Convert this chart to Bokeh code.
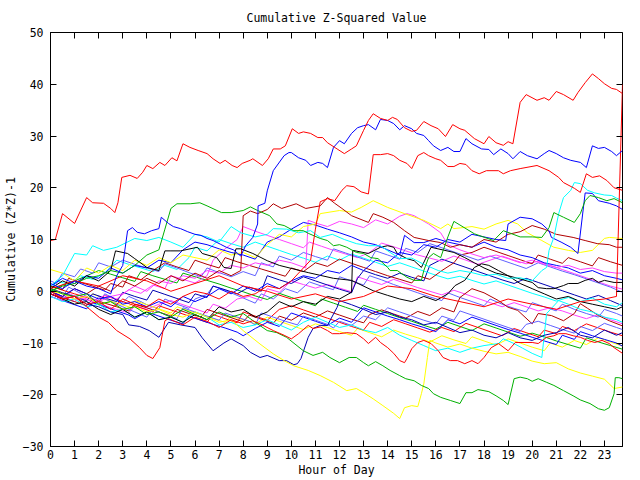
from bokeh.plotting import figure
from bokeh.models import Range1d, LinearAxis, FixedTicker
from bokeh.embed import file_html
from bokeh.resources import INLINE

FONT = "DejaVu Sans Mono"
TITLE = "Cumulative Z-Squared Value"
XLABEL = "Hour of Day"
YLABEL = "Cumulative (Z*Z)-1"
X_TICKS = list(range(24))
Y_TICKS = list(range(-30, 51, 10))

# ---- series, as (hour, value) ----
RED_TOP = [(0,9.8),(0.2,10),(0.5,15),(1.0,13.1),(1.5,18.1),(1.75,17.1),(2.2,17),(2.5,16),(2.67,15.2),(2.8,17.1),(2.96,22),(3.3,22.4),(3.6,21.8),(3.83,23),(4.0,24.3),(4.25,23.7),(4.54,24.9),(4.75,24.3),(5.04,25.8),(5.25,25.2),(5.5,28.5),(5.79,27.8),(6.13,27.2),(6.5,26.6),(6.75,25.6),(7.04,24.7),(7.25,25.3),(7.54,24.3),(7.75,23.9),(7.96,24.7),(8.29,25.3),(8.4,25.6),(8.8,24.3),(9.04,25.6),(9.25,27.5),(9.54,27.5),(9.75,28.1),(10.04,31.4),(10.3,30.5),(10.5,30.8),(10.8,30.5),(11.1,29.7),(11.3,29.7),(11.5,28.7),(11.9,27.5),(12.2,26.6),(12.5,27.5),(12.7,28.1),(13.0,31.1),(13.2,33),(13.4,34.3),(13.7,33.4),(14.0,33),(14.2,33.6),(14.4,33.2),(14.7,31.6),(15.0,30.9),(15.2,31.1),(15.5,32.8),(15.8,32),(16.1,31.4),(16.4,29.9),(16.7,32.2),(17.0,31.4),(17.2,31.1),(17.6,29.5),(18.0,28.5),(18.2,29.9),(18.5,28.7),(18.8,28.2),(19.0,28.9),(19.2,28.5),(19.5,36.5),(19.75,38),(20.2,36.9),(20.5,37.4),(20.7,36.9),(21.0,38.6),(21.3,38),(21.7,36.9),(21.9,38.4),(22.2,40.3),(22.5,42),(22.75,41.1),(23.0,40.1),(23.3,39.2),(23.5,39),(23.75,38.2)]

BLUE_TOP = [(0,1.5),(0.5,0.5),(1,2),(1.5,1),(2,0.5),(2.5,-0.5),(2.75,3),(3.0,5),(3.2,11.7),(3.4,12.3),(3.6,11.4),(3.9,11.1),(4.2,11.7),(4.5,12.1),(4.6,14.3),(4.9,13.1),(5.1,12.5),(5.4,12.1),(5.7,11.5),(6,11),(6.25,10.8),(6.5,10.2),(6.75,9.8),(7.05,9.1),(7.3,8.5),(7.6,8),(7.9,6.8),(8.1,8.8),(8.4,10.4),(8.6,13),(8.62,16.5),(8.9,17),(9.0,19.4),(9.25,23.3),(9.7,26.2),(9.9,26.8),(10.0,26.8),(10.3,25.8),(10.6,25.3),(10.8,24.3),(11.1,24.9),(11.3,24.7),(11.5,23.9),(11.75,27.8),(12,29.1),(12.2,28.5),(12.5,30.5),(12.75,31.6),(13,32),(13.2,32.2),(13.5,31.2),(13.7,33.2),(14,33),(14.25,32.4),(14.5,31.2),(14.7,32),(15,31.4),(15.2,30.5),(15.5,30.1),(15.7,29.1),(15.9,28.1),(16.2,27.2),(16.5,27.8),(16.75,27),(17,27),(17.25,29.5),(17.5,28.5),(17.9,27.5),(18.2,27.4),(18.4,26.4),(18.7,27.5),(19,26.6),(19.2,25.6),(19.5,27),(19.8,26.2),(20.2,25.6),(20.5,26.6),(20.7,27.2),(21,26.6),(21.3,25.8),(21.6,25.3),(22,24.9),(22.25,23.9),(22.5,28.1),(22.75,27.6),(23,27.8),(23.3,27),(23.5,26.2),(23.75,27.2)]

RED_MID = [(0,-0.5),(0.5,-1.5),(1,-1),(1.5,-2.5),(2,-2),(2.5,-3.5),(3,-1.5),(3.5,-2.5),(4,-3),(4.5,-1.5),(5,-2.5),(5.5,-1),(6,0),(6.5,-0.5),(7,-1.5),(7.5,0),(8,-1),(8.5,-0.5),(9,1),(9.5,0.5),(10,2),(10.5,4.5),(10.8,6),(11.0,12),(11.2,17.3),(11.5,17.9),(11.8,17.5),(12.1,19.5),(12.3,20.4),(12.6,20.2),(12.9,19.2),(13.2,18.8),(13.4,26.4),(13.7,26.4),(14,26.6),(14.25,26.2),(14.5,25.3),(14.8,24.7),(15,23.7),(15.25,26.2),(15.5,26.8),(15.7,26.2),(16,25.6),(16.2,25.3),(16.5,24.1),(16.75,24.1),(17,24.7),(17.25,24.5),(17.5,23.3),(17.8,22.7),(18.1,23.3),(18.6,23.3),(18.8,22.7),(19.1,23.3),(19.5,23.7),(20.2,24.3),(20.7,23.3),(21.1,22),(21.3,21),(21.75,19.9),(22,19.1),(22.25,22.7),(22.5,22),(22.8,22.3),(23.1,21.4),(23.4,20),(23.75,19.5)]

RED_DIP = [(0,0),(0.5,-1.5),(1,-1),(1.5,-3),(2.04,-5.1),(2.4,-6),(2.75,-7.6),(3.3,-9.2),(3.7,-10.9),(4,-12.4),(4.25,-13),(4.54,-10.9),(4.75,-5.7),(4.9,-5.3),(5.5,-6.5),(6,-5),(6.5,-5.8),(7,-7),(7.5,-5.5),(8,-6.3),(8.4,-5.7),(8.7,-6.3),(9.25,-7.6),(9.7,-8.5),(10,-9.2),(10.3,-8.2),(10.7,-6.6),(10.9,-7.2),(11.2,-6.9),(11.5,-7.6),(11.7,-8.2),(12,-8.2),(12.3,-8),(12.7,-8.2),(13,-9.2),(13.2,-10.1),(13.5,-8.9),(13.7,-9.9),(14,-10.9),(14.25,-12),(14.5,-13.4),(14.7,-13.8),(14.8,-13),(15,-11.1),(15.25,-9.9),(15.5,-9.5),(15.8,-10.1),(16.1,-11.5),(16.3,-12.8),(16.6,-13.4),(16.9,-13.4),(17.2,-14),(17.5,-13.4),(17.75,-14),(18,-12.8),(18.3,-10.9),(18.6,-10.1),(19,-11.5),(19.3,-9.9),(20,-9.9),(20.25,-10.1),(20.6,-8.9),(20.9,-8.6),(21.1,-8.2),(21.4,-8.2),(21.7,-8.6),(22,-8.9),(22.3,-9.5),(22.6,-9.9),(22.9,-9.5),(23.2,-10.1),(23.4,-10.9),(23.75,-12)]

GREEN_LOW = [(0,0.5),(0.5,-0.5),(1,-1),(1.5,-0.5),(2,-2.5),(2.5,-2),(3,-3.5),(3.5,-3),(4,-4.5),(4.5,-4),(5,-5),(5.5,-3.5),(6,-4.5),(6.5,-5.5),(7,-4),(7.5,-5),(8,-4.3),(8.5,-6),(9,-7.6),(9.4,-8),(9.8,-8.9),(10.5,-11.5),(10.9,-12.4),(11.3,-11.8),(11.6,-12.8),(12,-13.8),(12.4,-12.8),(12.7,-12.8),(13,-13.8),(13.2,-14.4),(13.5,-13.6),(13.8,-14.4),(14.1,-15.3),(14.5,-16.3),(14.75,-16.9),(15.1,-17.3),(15.4,-18.2),(15.7,-18.8),(15.9,-19.8),(16.2,-20.5),(16.6,-21.1),(17,-21.7),(17.25,-19.6),(17.5,-19.6),(17.75,-19),(18.2,-19.4),(18.5,-20.2),(18.8,-21.1),(19,-21.9),(19.25,-16.9),(19.5,-16.6),(19.8,-16.9),(20,-17.4),(20.25,-16.9),(20.6,-17.6),(20.9,-18.2),(21.3,-19.2),(21.7,-20.2),(22,-21),(22.4,-21.7),(22.75,-22.7),(23,-23),(23.2,-22.5),(23.4,-19.8),(23.45,-16.7),(23.6,-16.7),(23.75,-16.9)]

YELLOW_LOW = [(0,0),(0.5,-0.5),(1,-1.5),(1.5,-1),(2,-2.5),(2.5,-2),(3,-3.5),(3.5,-3),(4,-4),(4.5,-3.5),(5,-4.5),(5.5,-5),(6,-4),(6.5,-5),(7,-6),(7.5,-5.5),(8,-7.6),(8.7,-10.2),(9.25,-12.1),(9.7,-13.4),(10.1,-14.4),(10.7,-15.3),(11.2,-16.3),(11.75,-17.6),(12.3,-19.2),(12.7,-18.8),(13,-19.6),(13.4,-20.8),(13.8,-22.1),(14.25,-23.6),(14.5,-24.6),(14.7,-22.5),(15,-22.1),(15.25,-22.3),(15.4,-19.8),(15.5,-17.9),(15.65,-12.8),(15.75,-9.5),(16,-10),(16.5,-10.8),(17,-10.2),(17.5,-11),(18,-11.6),(18.5,-12.1),(19,-11.8),(19.5,-12.6),(20,-13.5),(20.5,-14),(21,-13.8),(21.5,-15),(22,-15.8),(22.5,-16.4),(23,-17),(23.4,-18.8),(23.75,-18.5)]

NAVY_DIP = [(0,-0.5),(0.5,-1.5),(1,-1),(1.5,-2.5),(2,-3),(2.5,-4),(3,-4.5),(3.25,-6.5),(3.7,-6.8),(4.1,-7.6),(4.5,-8.9),(4.9,-6),(5.4,-6.5),(6,-7),(6.3,-9),(6.75,-11.5),(7.2,-10),(7.5,-9.2),(8,-10.5),(8.3,-11.8),(8.7,-12.8),(9,-12.4),(9.5,-13.4),(9.8,-13.4),(10.1,-14.2),(10.25,-14),(10.4,-13),(10.7,-8.9),(10.9,-7.2),(11.2,-6.6),(11.5,-6.6),(11.9,-3.1),(12,-1.8),(12.5,-2.6),(13,-3.5),(13.5,-4.5),(14,-4),(14.5,-5),(15,-5.5),(15.5,-6.5),(16,-6),(16.5,-7),(17,-8),(17.5,-7.5),(18,-8.5),(18.5,-9),(19,-8),(19.5,-9),(20,-9.5),(20.5,-8.5),(21,-8),(21.5,-7),(22,-8.5),(22.5,-9),(23,-7.5),(23.5,-8.5),(23.75,-8)]

GREEN_UP = [(0,0),(0.5,1),(1,1.5),(1.5,2.5),(2,3),(2.5,4),(3,3.5),(3.5,5),(4,7),(4.5,8),(4.75,12),(5.0,16),(5.25,16.9),(5.8,16.9),(6.2,17.1),(6.5,16.5),(7.1,15.2),(7.5,15.2),(8,15.6),(8.3,16.3),(8.6,15.6),(9.1,14.6),(9.4,13),(9.7,12.7),(10.1,11.7),(10.5,11.7),(10.7,11.2),(11.2,10.2),(11.5,9.8),(11.75,8.8),(12,9),(12.3,8.5),(12.7,7.5),(13,7.3),(13.3,6.5),(13.6,6.3),(14,4.6),(14.1,4),(14.4,4),(14.8,2.7),(15.1,2.1),(15.4,2.1),(15.5,4),(15.7,6.5),(15.9,7.3),(16.2,6.5),(16.5,10.5),(16.75,13.5),(17,12.8),(17.6,11.1),(18.4,9.8),(18.8,11.7),(19.1,11.2),(19.5,10.5),(20,10.5),(20.4,10.4),(20.7,12.3),(20.9,15.2),(21.3,14.3),(21.75,13.3),(22,15),(22.2,17.5),(22.4,18.5),(22.75,18.1),(23.1,17.5),(23.4,17.9),(23.75,17.1)]

CYAN_UP = [(0,1),(0.5,3),(1,7.3),(1.5,7),(1.75,8.8),(2.2,7.9),(2.75,8.5),(3.5,10.2),(4,9.8),(4.5,10.4),(5,9.5),(5.5,8.5),(6,11),(6.5,10.5),(7,9.5),(7.5,12.5),(7.9,11.3),(8.5,10.5),(9,11),(9.25,12.1),(9.8,12),(10.3,11.3),(10.8,11.7),(11.2,10.4),(11.7,11),(12.2,10),(12.7,9.2),(13.2,8.8),(13.7,8.8),(14.1,7.5),(14.5,6.3),(15,6.4),(15.5,5.2),(16.1,4),(16.5,3.5),(17,4),(17.5,3.6),(18,3),(18.5,3.3),(19,2.5),(19.5,2.6),(20,2),(20.4,4),(20.6,4.6),(20.7,7.9),(20.9,10.4),(21.1,15),(21.3,18.1),(21.6,19.5),(21.75,21),(22,20.8),(22.3,19.5),(22.6,19),(23,18.6),(23.3,18.5),(23.5,18),(23.75,17.5)]

CYAN_LOW = [(0,-1),(0.5,-2),(1,-1.5),(1.5,-3),(2,-2.5),(2.5,-4),(3,-3.5),(3.5,-5),(4,-4),(4.5,-5.5),(5,-5),(5.5,-6),(6,-4),(6.5,-5),(7,-6.5),(7.5,-6),(8,-7),(8.5,-6.5),(9,-5.5),(9.5,-6.5),(10,-7.5),(10.5,-6),(11,-5),(11.5,-6),(12,-7),(12.5,-6.5),(13,-7.5),(13.5,-8),(14,-7),(14.5,-8.5),(15,-9.5),(15.5,-10.5),(16,-11.5),(16.5,-11),(17,-11.8),(17.5,-11),(18,-10.5),(18.6,-10.1),(18.8,-9.2),(19.2,-10),(19.6,-11),(20,-12),(20.4,-12.8),(20.6,-4.3),(21.1,-1.8),(21.5,-2.5),(22,-3.5),(22.5,-4),(23,-5),(23.5,-5.5),(23.75,-6)]

RED_END = [(0,0.5),(1,2),(2,1),(3,3),(4,2),(5,0),(6,1.5),(7,3),(8,1),(9,0),(10,-1.5),(11,-0.5),(12,-2),(13,-1),(14,1),(15,0.5),(16,-1),(17,-2),(18,-3),(19,-1.5),(20,-2.5),(21,-3.5),(22,-2),(23,-1.5),(23.5,-1),(23.75,40)]

BLACK_A = [(0,0.5),(0.5,2),(1,1),(1.5,3),(2,2),(2.5,4),(2.7,7.8),(3.2,7.3),(3.5,6.3),(4,4.6),(4.5,4),(4.75,7.8),(5,7.8),(5.4,7.8),(6.1,8.5),(6.3,7.3),(6.9,6.5),(7.2,4.6),(7.5,4.4),(7.7,8.2),(7.9,8.2),(8.4,7.3),(9,5.9),(9.5,5),(10.7,3.6),(11.75,2.5),(12.5,2.1),(13.4,0.1),(14,-0.8),(14.5,-1.5),(15,-2),(15.5,-1),(16,-1.8),(16.5,-0.5),(16.8,1.1),(17.2,2.1),(17.6,4.6),(17.9,5.3),(18.2,5),(18.6,4),(19,3),(19.4,2.5),(20,1.7),(20.25,0.7),(20.6,0.5),(20.9,0.5),(21.3,1.1),(21.5,1.5),(21.9,1.5),(22.2,2.1),(22.5,2.5),(22.75,1.7),(23,2.1),(23.4,1.7),(23.75,1.7)]

BLACK_B = [(0,-0.5),(0.5,-1.5),(1,-2.5),(1.5,-2),(2,-3.5),(2.5,-4.5),(3,-3.5),(3.5,-5),(4,-4),(4.5,-5.5),(5,-5),(5.5,-6),(6,-4.5),(6.5,-5.5),(7,-3),(7.5,-4),(8,-3.5),(8.5,-5),(9,-4),(9.5,-2),(10,-3),(10.5,-2),(11,-2.5),(11.5,-1),(12,-1.5),(12.5,-0.2),(12.55,7.9),(13.2,7.3),(13.7,8.5),(14,8.8),(14.25,8.5),(14.4,7.3),(14.8,6.3),(15.1,5.9),(15.4,4.6),(15.8,8.5),(16.75,7.5),(17.2,6.5),(17.6,5.5),(18,4.5),(18.5,3.5),(19,3),(19.5,1.5),(20,0.5),(20.5,-0.5),(21,-1.5),(21.5,-1),(22,-2),(22.5,-2.5),(23,-3),(23.5,-3.5),(23.75,-3)]

YEL_HIGH = [(0,4.2),(0.5,3.5),(1,2),(1.5,4.5),(2,3.5),(2.5,5),(3,4),(3.5,6),(4,5),(4.5,6.5),(5,5.5),(5.5,7),(6,6.5),(6.5,6),(7,8),(7.5,7),(8,7.5),(8.5,6.5),(9,9),(9.5,11),(10,10.5),(10.5,12.5),(11,13),(11.2,15),(12,15.6),(12.5,15.3),(12.9,16.2),(13.4,17.5),(14,16.2),(14.7,15),(15.5,13.7),(16.2,12.1),(16.5,13),(16.75,12.1),(17.5,12.5),(18,12),(18.5,13),(19,13.7),(19.4,13),(19.8,11.3),(20.4,9.8),(20.9,8.5),(21.5,7.9),(22,7.5),(22.5,7.9),(23,10.2),(23.2,10.4),(23.75,10.2)]

DRED_HIGH = [(0,0),(0.5,-1),(1,0.5),(1.5,-0.5),(2,1),(2.5,0),(3,2),(3.5,1),(4,2.5),(4.5,1.5),(5,3),(5.5,2),(6,3.5),(6.5,2.5),(7,4),(7.5,3),(7.9,4),(8.0,14.6),(8.3,15.5),(8.6,15),(9,15.8),(9.25,16.9),(9.6,16),(10.2,16.9),(10.6,16),(11.2,16.5),(11.5,18.1),(11.8,17),(12.1,16),(12.5,14.6),(13.2,13.3),(13.4,15),(13.8,14.3),(14.25,13.3),(14.7,11.7),(15.1,10.4),(15.7,9.8),(16.2,9.4),(16.6,8.5),(17,9),(17.5,8.5),(18,10),(18.5,9.5),(19,11),(19.5,11.5),(20,12.7),(20.5,12),(21,11),(21.7,10.4),(22.2,9.8),(22.7,9.2),(23.2,9),(23.5,8.5),(23.75,8.5)]

MAG_HIGH = [(0,0.5),(0.5,-0.5),(1,-1.5),(1.5,-1),(2,-2),(2.5,-1),(3,-0.5),(3.5,1),(4,0),(4.5,2),(5,1.5),(5.5,3),(6,2.5),(6.5,4),(7,3.5),(7.5,5),(8,4.5),(8.5,5.5),(9,5),(9.5,6),(10,5.5),(10.6,4.5),(10.7,13.7),(11,13.2),(11.5,12.5),(12,13.5),(12.5,13),(13,12.3),(13.5,13.8),(14,13),(14.5,14.5),(14.8,15),(15.1,14.6),(15.7,13),(16.2,11.3),(16.5,9),(17,8),(17.5,7.2),(18,6.5),(18.5,7),(19,6.3),(19.5,5.5),(20,6),(20.5,5.2),(21,4.6),(21.5,5),(22,4.2),(22.5,4.5),(23,3.8),(23.5,3.5),(23.75,3.5)]

BLUE_MID = [(0,1),(0.5,2.5),(1,1.5),(1.5,3),(2,2.5),(2.5,4.5),(3,3.5),(3.5,5),(4,4.5),(4.5,6),(5,5.5),(5.5,8),(6,9.5),(6.5,9),(7,8.2),(7.5,7.5),(8,7),(8.5,6.2),(9,9.5),(9.5,10.5),(10,12),(10.5,13.3),(11,12.8),(11.5,12),(12,11.3),(12.5,10.5),(13,9.5),(13.5,9),(14,8),(14.5,7),(14.7,10.8),(15.1,9.4),(15.5,9.4),(16,10.2),(16.5,9.5),(17,9),(17.5,8.5),(18,9.5),(18.5,8.5),(19,8),(19.5,7),(20,6.5),(20.5,5.5),(21,5),(21.5,4.5),(22,3.5),(22.5,4),(23,3),(23.5,2.5),(23.75,2.2)]

BLUE_RISE = [(0,0),(0.5,-1),(1,0.5),(1.5,-0.5),(2,-1.5),(2.5,-1),(3,-2.5),(3.5,-2),(4,-3),(4.5,-2),(5,-3),(5.5,-1),(6,-2),(6.5,-1),(7,0.5),(7.5,-0.5),(8,1),(8.5,0),(9,1.5),(9.5,0.5),(10,2),(10.5,3),(11,2.5),(11.5,4),(12,3.5),(12.5,5),(13,4),(13.5,6),(14,5.5),(14.5,7.5),(15,7),(15.5,9),(16,8.5),(16.5,10),(17,9.5),(17.5,11),(18,10.5),(18.5,10),(18.9,9.8),(19.0,13),(19.5,14.3),(20,14),(20.4,13),(20.7,11.7),(20.8,10.4),(21.2,9.5),(21.6,8.5),(21.9,7.3),(22.2,19),(22.5,18.9),(22.75,17.5),(23.2,17),(23.5,16.5),(23.75,15.8)]

SLATE_A = [(0,0),(0.25,-0.6),(0.5,-1.2),(0.75,0.8),(1,0.2),(1.5,-1),(1.75,-1.6),(2,-2.3),(2.25,-0.5),(2.75,-1.6),(3,-2.2),(3.25,-1),(3.75,-2),(4,-2.6),(4.5,-3.4),(4.75,-1.5),(5.25,-2.5),(5.75,-3.3),(6,-1.5),(6.5,-0.6),(6.75,1),(7.25,0.2),(7.75,-0.8),(8.25,-1.8),(8.5,-2.3),(8.75,-0.5),(9.25,-1.5),(9.75,0.5),(10.25,-0.3),(10.75,1.8),(11.25,1),(11.75,0.3),(12,2.8),(12.5,2),(13,1.2),(13.25,3),(13.75,2.2),(14.25,1.3),(14.75,0.5),(15.25,-0.3),(15.75,-1.1),(16.25,-1.8),(16.5,-0.3),(17,-1.2),(17.5,-2),(18,-2.8),(18.25,-1.5),(18.75,-2.5),(19.25,-3.3),(19.75,-4),(20,-2.2),(20.5,-3),(21,-3.8),(21.25,-2.5),(21.75,-3.5),(22.25,-4.3),(22.75,-5),(23,-3.5),(23.5,-4.3),(23.75,-4.8)]

SLATE_B = [(0,2),(0.25,1.5),(0.5,3.5),(1,2.8),(1.25,4.3),(1.75,3.5),(2,5.5),(2.5,4.7),(3,6),(3.5,5.2),(4,4.5),(4.5,3.8),(4.75,5.3),(5.25,4.5),(5.75,3.6),(6.25,2.8),(6.5,4.5),(7,3.6),(7.5,2.8),(8,3.8),(8.5,3),(8.75,5.5),(9.25,4.7),(9.5,6.8),(10,6),(10.5,7.5),(11,6.7),(11.5,6),(11.75,8.2),(12.25,7.4),(12.75,6.6),(13.25,5.8),(13.5,7.8),(14,7),(14.5,6.2),(14.75,8.3),(15.25,7.5),(15.75,9.2),(16.25,8.4),(16.75,7.6),(17.25,6.8),(17.75,6),(18.25,6.8),(18.75,6),(19.25,5.2),(19.75,4.4),(20.25,5.5),(20.75,4.7),(21.25,3.9),(21.75,3.2),(22.25,2.4),(22.75,1.6),(23.25,0.8),(23.75,-0.2)]

SLATE_C = [(0,-0.5),(0.5,-1.5),(0.75,-0.5),(1.25,-1.5),(1.75,-2.5),(2,-1),(2.5,-2),(3,-3),(3.5,-4),(4,-5),(4.25,-3.5),(4.75,-4.5),(5.25,-5.3),(5.5,-3.2),(6,-4),(6.5,-4.8),(7,-5.6),(7.25,-4.2),(7.75,-5),(8.25,-5.8),(8.5,-6.5),(8.75,-4.2),(9.25,-5),(9.75,-5.8),(10.25,-6.5),(10.5,-4.8),(11,-5.6),(11.5,-6.4),(11.75,-7.1),(12,-5.8),(12.5,-6.6),(13,-4.8),(13.5,-5.5),(14,-3.2),(14.5,-4),(15,-4.8),(15.5,-5.6),(16,-6.3),(16.25,-4.8),(16.75,-5.6),(17,-3.8),(17.5,-4.6),(18,-5.4),(18.5,-6.2),(19,-7),(19.5,-7.8),(19.75,-6.4),(20.25,-5.8),(20.75,-6.6),(21.25,-7.4),(21.75,-8.1),(22,-6.8),(22.5,-7.6),(23,-6.2),(23.5,-7),(23.75,-7.4)]

NAVY_B = [(0,0.5),(0.5,-0.3),(1,-1),(1.5,-1.8),(1.75,-0.5),(2.25,-1.3),(2.75,-2),(3,-0.2),(3.5,-1),(4,-1.7),(4.25,0.2),(4.75,-0.6),(5.25,-1.4),(5.75,-2.2),(6,-0.5),(6.5,-1.2),(6.75,1),(7.25,0.3),(7.75,-0.5),(8.25,0.8),(8.75,0),(9,3),(9.5,2.2),(10,1.5),(10.5,2.8),(11,2),(11.5,1.2),(12,0.4),(12.5,-0.3),(12.75,2.5),(13,4),(13.5,3.2),(14,2.5),(14.5,3.5),(15,2.7),(15.5,2),(15.75,5),(16.25,6.2),(16.75,5.4),(17.25,4.6),(17.75,3.8),(18.25,3),(18.75,2.2),(19.25,1.5),(19.75,2.5),(20.25,1.7),(20.75,0.9),(21.25,0.1),(21.75,-0.7),(22.25,-1.5),(22.75,-0.8),(23.25,-1.8),(23.75,-2.8)]

MAG_B = [(0,-1),(0.5,-1.8),(0.75,-0.5),(1.25,-1.3),(1.75,-2),(2.25,-0.8),(2.75,-1.5),(3.25,0.3),(3.75,-0.4),(4.25,1.2),(4.75,0.5),(5,3),(5.5,2.3),(6,1.6),(6.5,3),(6.75,6),(7.25,8.2),(7.75,10),(8,12.5),(8.5,11.6),(9,10.8),(9.5,10),(10,9.2),(10.5,8.4),(10.75,9.5),(11.25,8.7),(11.75,7.9),(12.25,7.2),(12.75,6.5),(13.25,7.5),(13.75,9.3),(14.25,8.6),(14.75,7.8),(15.25,7),(15.75,6.4),(16.25,5.8),(16.75,6.8),(17.25,6),(17.75,5.2),(18.25,6),(18.75,6.8),(19.25,6),(19.75,5.3),(20.25,5.8),(20.75,5),(21.25,4.2),(21.75,3.4),(22.25,2.6),(22.75,1.8),(23.25,1),(23.75,0.4)]

MAG_C = [(0,0),(0.5,-1),(1,-2),(1.25,-1),(1.75,-2),(2.25,-2.8),(2.75,-3.5),(3.25,-4.2),(3.5,-2.8),(4,-3.5),(4.5,-2.5),(5,-1.8),(5.5,-2.6),(6,-3.4),(6.5,-4.2),(6.75,-2.5),(7.25,-3.3),(7.75,-1.5),(8.25,-1),(8.75,-1.8),(9,0.5),(9.5,-0.2),(10,2),(10.5,1.3),(11,0.6),(11.5,1.3),(12,0.6),(12.5,-0.1),(12.75,2.8),(13.25,2),(13.75,1.3),(14.25,2.3),(14.75,1.5),(15.25,0.7),(15.75,0),(16.25,-0.7),(16.75,0.2),(17.25,-0.6),(17.75,-1.4),(18.25,-2.2),(18.75,-3),(19.25,-2.2),(19.75,-3),(20.25,-3.8),(20.75,-3.2),(21.25,-3.8),(21.75,-4.6),(22.25,-5.3),(22.75,-4.5),(23.25,-5.5),(23.75,-6.3)]

CYAN_B = [(0,0),(0.25,2),(0.75,1.3),(1.25,3),(1.75,2.3),(2.25,3.5),(2.75,6),(3.25,5.2),(3.75,4.5),(4.25,3.8),(4.75,5),(5.25,4.2),(5.75,6.5),(6,8.5),(6.5,7.8),(7,10),(7.5,9.2),(8,8.5),(8.5,9.5),(9,8.7),(9.5,7.9),(10,7.1),(10.5,6.4),(11,5.6),(11.5,6.8),(12,6),(12.5,7.2),(13,6.4),(13.5,5.6),(14,4.8),(14.5,5.5),(15,4.7),(15.5,3.9),(16,3.1),(16.5,2.4),(17,2.9),(17.5,2.1),(18,1.4),(18.5,2),(19,1.2),(19.5,0.4),(20,-0.4),(20.5,-1.1),(21,-1.9),(21.5,-1.2),(22,-2),(22.5,-1.3),(23,-2.5),(23.5,-3),(23.75,-2.2)]

YEL_C = [(0,0.5),(0.5,-0.3),(1,-1),(1.5,-1.8),(1.75,-0.5),(2.25,-1.5),(2.75,-2.3),(3.25,-3),(3.5,-1.8),(4,-2.6),(4.5,-3.4),(5,-4.2),(5.25,-3),(5.75,-3.8),(6.25,-4.5),(6.75,-5.3),(7.25,-6),(7.5,-4.8),(8,-5.5),(8.5,-6.3),(9,-5),(9.5,-5.8),(10,-6.6),(10.5,-7.4),(11,-6.3),(11.5,-7),(12,-7.8),(12.5,-8.5),(12.75,-7.2),(13.25,-8),(13.75,-8.8),(14.25,-7.5),(14.75,-8.3),(15.25,-9),(15.75,-9.8),(16.25,-8.6),(16.75,-9.4),(17.25,-10.1),(17.5,-8.8),(18,-9.6),(18.5,-10.4),(19,-9.2),(19.5,-10),(20,-10.8),(20.5,-11.5),(20.75,-10),(21.25,-10.8),(21.75,-9.5),(22.25,-10.3),(22.75,-9),(23.25,-9.8),(23.75,-10.6)]

DRED_B = [(0,-0.5),(0.5,-1.3),(1,-2),(1.5,-2.8),(1.75,-1.5),(2.25,-2.3),(2.75,-3),(3.25,-3.8),(3.5,-2.5),(4,-3.2),(4.5,-4),(5,-4.8),(5.25,-3.5),(5.75,-4.3),(6.25,-5),(6.5,-3.5),(7,-4.3),(7.5,-5.1),(8,-5.9),(8.25,-4.6),(8.75,-5.4),(9.25,-6.2),(9.5,-4.8),(10,-5.6),(10.5,-4.2),(11,-5),(11.5,-3.8),(12,-4.6),(12.5,-5.4),(13,-6.1),(13.25,-4.5),(13.75,-3.6),(14.25,-4.4),(14.75,-5.2),(15.25,-3.9),(15.75,-4.7),(16.25,-3.2),(16.75,-4),(17,-1.2),(17.5,0.5),(18,-0.3),(18.6,-1.8),(19,-3.1),(19.4,-3.7),(20,-6.3),(20.25,-4.3),(20.8,-4.7),(21.3,-5.7),(21.75,-4.3),(22,-2.4),(22.3,-3.3),(22.75,-4.7),(23.2,-5.7),(23.75,-6.7)]

DRED_C = [(0,1),(0.5,0.3),(0.75,2.5),(1.25,1.7),(1.75,1),(2.25,0.2),(2.5,1.5),(3,0.8),(3.25,3),(3.75,2.2),(4.25,4),(4.75,5.5),(5.25,4.7),(5.75,4),(6,6),(6.5,5.2),(7,4.5),(7.25,6.5),(7.75,5.7),(8.25,5),(8.75,4.3),(9.25,3.6),(9.75,2.9),(10,4.5),(10.5,3.8),(11,5.5),(11.5,4.8),(12,6.2),(12.5,5.4),(13,4.6),(13.5,3.8),(14,3),(14.5,2.3),(15,1.6),(15.25,3),(15.75,2.3),(16.25,4),(16.75,5.5),(17,7),(17.5,7.5),(18,8.5),(18.5,7.7),(19,6.9),(19.5,6.1),(20,5.3),(20.25,7),(20.75,6.2),(21.25,5.4),(21.5,6.5),(22,5.7),(22.5,4.9),(22.75,6.5),(23.25,5.7),(23.75,5)]

GREEN_C = [(0,0),(0.5,1.2),(1,2),(1.5,3),(2,4),(2.5,3.3),(3,2.6),(3.5,1.9),(3.75,3.8),(4.25,3),(4.75,2.3),(5.25,1.6),(5.5,3.5),(6,2.8),(6.5,2.1),(7,1.4),(7.5,0.6),(8,-0.1),(8.5,-0.9),(9,-1.6),(9.5,-0.4),(10,-1.2),(10.5,-2),(11,-2.8),(11.25,-1.5),(11.75,-2.3),(12.25,-3.1),(12.75,-3.9),(13,-2.7),(13.5,-3.5),(14,-4.3),(14.5,-5.1),(15,-5.8),(15.5,-6.6),(16,-7.3),(16.5,-6),(17,-6.8),(17.5,-7.6),(18,-6.3),(18.5,-7.1),(19,-7.9),(19.5,-8.7),(20,-8.1),(20.5,-8.8),(21,-9.6),(21.5,-10.3),(22,-11),(22.25,-9),(22.75,-9.8),(23.25,-10.5),(23.75,-11.2)]

RED_E = [(0,1),(0.5,0.2),(1,-0.5),(1.5,-1.2),(2,-2),(2.25,-0.8),(2.75,-1.6),(3.25,-2.4),(3.75,-3.2),(4.25,-4),(4.5,-2.8),(5,-3.6),(5.5,-4.4),(6,-5.2),(6.5,-6),(6.75,-4.5),(7.25,-5.3),(7.75,-6.1),(8,-4),(8.5,-4.8),(9,-5.6),(9.5,-3.5),(10,-2.8),(10.5,-3.6),(11,-4.4),(11.5,-5.2),(12,-6),(12.5,-6.8),(13,-7.5),(13.25,-6),(13.75,-6.8),(14.25,-5.5),(14.75,-6.3),(15.25,-7.1),(15.75,-7.9),(16.25,-7),(16.75,-7.8),(17.25,-6.2),(17.75,-7),(18.25,-7.8),(18.75,-8.6),(19.25,-7.2),(19.75,-8),(20.25,-8.8),(20.5,-7.5),(21,-8.2),(21.25,-6.8),(21.75,-7.6),(22.25,-6.3),(22.75,-7.1),(23.25,-7.9),(23.75,-8.6)]

BLUE_D = [(0,-1),(0.5,-1.8),(1,-2.6),(1.5,-3.4),(1.75,-2.2),(2.25,-3),(2.75,-3.8),(3.25,-4.6),(3.5,-5.3),(4,-4),(4.5,-4.8),(5,-5.6),(5.5,-6.3),(5.75,-4.8),(6.25,-5.6),(6.75,-6.4),(7.25,-7.1),(7.75,-7.9),(8,-8.6),(8.5,-7.2),(9,-6),(9.5,-6.8),(10,-4.2),(10.5,-5),(11,-5.8),(11.5,-6.6),(12,-5.2),(12.5,-6),(13,-3.2),(13.5,-4),(14,-4.8),(14.5,-5.5),(15,-6.3),(15.5,-7),(16,-7.8),(16.5,-5.5),(17,-6.3),(17.5,-5),(18,-5.8),(18.5,-6.6),(19,-7.4),(19.5,-8.1),(20,-8.9),(20.5,-9.6),(21,-10.3),(21.25,-8.5),(21.75,-9.3),(22,-7.8),(22.5,-8.6),(23,-9.3),(23.5,-10),(23.75,-10.6)]

RED = "#ff0000"; GREEN = "#00b000"; BLUE = "#0000ff"; MAGENTA = "#ff40ff"
CYAN = "#00ffff"; DRED = "#b00000"; BLACK = "#000000"; YELLOW = "#ffff00"
SLATE = "#6060ff"; NAVY = "#0000b0"

p = figure(width=640, height=480, x_range=Range1d(0, 23.75), y_range=Range1d(-30, 50),
           output_backend="svg", toolbar_location=None, title=TITLE,
           min_border_left=50, min_border_right=18, min_border_top=32, min_border_bottom=34)
p.background_fill_color = "white"
p.border_fill_color = "white"
p.outline_line_color = "black"
p.grid.visible = False

p.title.align = "center"
p.title.text_font = FONT
p.title.text_font_size = "11.5px"
p.title.text_font_style = "normal"
p.title.text_color = "black"
p.title.standoff = 16

for ax in (p.xaxis[0], p.yaxis[0]):
    ax.major_label_text_font = FONT
    ax.major_label_text_font_size = "11.5px"
    ax.major_label_text_color = "black"
    ax.axis_label_text_font = FONT
    ax.axis_label_text_font_size = "11.5px"
    ax.axis_label_text_font_style = "normal"
    ax.axis_label_text_color = "black"
    ax.major_tick_in = 6
    ax.major_tick_out = 0
    ax.minor_tick_line_color = None
    ax.axis_line_color = "black"
    ax.major_tick_line_color = "black"
p.xaxis[0].ticker = FixedTicker(ticks=X_TICKS)
p.yaxis[0].ticker = FixedTicker(ticks=Y_TICKS)
p.xaxis[0].axis_label = XLABEL
p.yaxis[0].axis_label = YLABEL
p.xaxis[0].major_label_standoff = 3
p.xaxis[0].axis_label_standoff = 1
p.yaxis[0].major_label_standoff = 7
p.yaxis[0].axis_label_standoff = 2

for side, ticks in (("right", Y_TICKS), ("above", X_TICKS)):
    ax = LinearAxis(ticker=FixedTicker(ticks=ticks))
    ax.major_label_overrides = {t: "" for t in ticks}
    ax.major_label_text_font_size = "0px"
    ax.major_label_standoff = 0
    ax.major_tick_in = 6
    ax.major_tick_out = 0
    ax.minor_tick_line_color = None
    ax.axis_line_color = None
    p.add_layout(ax, side)

series = [(SLATE_A, SLATE), (MAG_C, MAGENTA), (YEL_C, YELLOW), (DRED_B, DRED),
          (GREEN_C, GREEN), (RED_E, RED), (BLUE_D, BLUE), (SLATE_C, SLATE), (NAVY_B, NAVY),
          (MAG_B, MAGENTA), (CYAN_B, CYAN), (DRED_C, DRED), (SLATE_B, SLATE),
          (CYAN_LOW, CYAN), (BLACK_B, BLACK), (BLUE_MID, BLUE), (MAG_HIGH, MAGENTA),
          (YEL_HIGH, YELLOW), (DRED_HIGH, DRED), (BLACK_A, BLACK), (BLUE_RISE, BLUE),
          (NAVY_DIP, NAVY), (YELLOW_LOW, YELLOW), (GREEN_LOW, GREEN), (RED_DIP, RED),
          (CYAN_UP, CYAN), (GREEN_UP, GREEN), (RED_END, RED), (RED_MID, RED),
          (BLUE_TOP, BLUE), (RED_TOP, RED)]
for pairs, c in series:
    xs = [a for a, b in pairs]
    ys = [b for a, b in pairs]
    p.line(xs, ys, line_color=c, line_width=1)

open("out.html", "w").write(file_html(p, INLINE))
